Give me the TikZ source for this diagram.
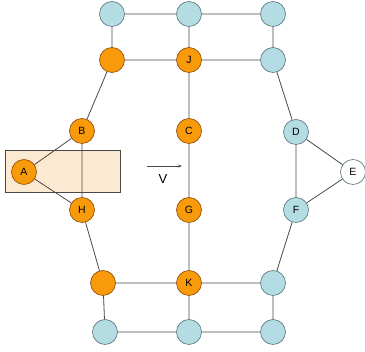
\documentclass[tikz,border=0pt]{standalone}
\usepackage{fontspec}
\setmainfont{Liberation Sans}
\usetikzlibrary{arrows.meta,backgrounds}
\begin{document}
\begin{tikzpicture}[x=1pt,y=-1pt,
  onode/.style={circle,draw=orange!55!black,fill=orangefill,line width=0.6pt,minimum size=25pt,inner sep=0pt,font=\fontsize{10.5}{11}\selectfont},
  bnode/.style={circle,draw=bluedraw,fill=bluefill,line width=0.6pt,minimum size=25pt,inner sep=0pt,font=\fontsize{10.5}{11}\selectfont},
  wnode/.style={circle,draw=bluedraw,fill=white,line width=0.6pt,minimum size=25pt,inner sep=0pt,font=\fontsize{10.5}{11}\selectfont},
  edge/.style={draw=edgecol,line width=0.8pt}]
\definecolor{orangefill}{HTML}{F89A0A}
\definecolor{bluefill}{HTML}{B3DDE2}
\definecolor{bluedraw}{HTML}{55737A}
\definecolor{edgecol}{HTML}{484848}
\definecolor{rectfill}{HTML}{FCE9D2}
\useasboundingbox (0,0) rectangle (365,352);
% top rows
\node[bnode] (T1) at (112,14) {};
\node[bnode] (T2) at (189,14) {};
\node[bnode] (T3) at (273,14) {};
\node[onode] (O1) at (112,60) {};
\node[onode] (J) at (189,60) {J};
\node[bnode] (M1) at (273,60) {};
% middle
\node[onode] (B) at (82,131) {B};
\node[onode] (A) at (24,172) {A};
\node[onode] (H) at (82,210) {H};
\node[onode] (C) at (189,131) {C};
\node[onode] (G) at (189,210) {G};
\node[bnode] (D) at (296,132) {D};
\node[wnode] (E) at (353,172) {E};
\node[bnode] (F) at (296,210) {F};
% bottom rows
\node[onode] (O2) at (103,283) {};
\node[onode] (K) at (189,283) {K};
\node[bnode] (M2) at (273,283) {};
\node[bnode] (U1) at (105,332) {};
\node[bnode] (U2) at (189,332) {};
\node[bnode] (U3) at (273,332) {};
\begin{pgfonlayer}{background}
\node[draw=edgecol,fill=rectfill,line width=0.8pt,minimum width=115pt,minimum height=42pt,inner sep=0pt] (R) at (62.5,171) {};
\path[edge] (T1)--(T2) (T2)--(T3) (T1)--(O1) (T2)--(J) (T3)--(M1)
 (O1)--(J) (J)--(M1)
 (O1)--(B) (B)--(A) (B)--(H) (A)--(H) (H)--(O2)
 (J)--(C) (C)--(G) (G)--(K)
 (M1)--(D) (D)--(E) (D)--(F) (E)--(F) (F)--(M2)
 (O2)--(K) (K)--(M2) (O2)--(U1) (K)--(U2) (M2)--(U3)
 (U1)--(U2) (U2)--(U3);
\end{pgfonlayer}
\coordinate (v1) at (147,166);
\coordinate (v2) at (182,166);
\draw[edgecol,line width=0.8pt,-{Stealth[length=4pt,width=3pt]}] (v1)--(v2);
\node[font=\fontsize{13}{13}\selectfont] (V) at (163,179) {V};
\end{tikzpicture}
\end{document}
